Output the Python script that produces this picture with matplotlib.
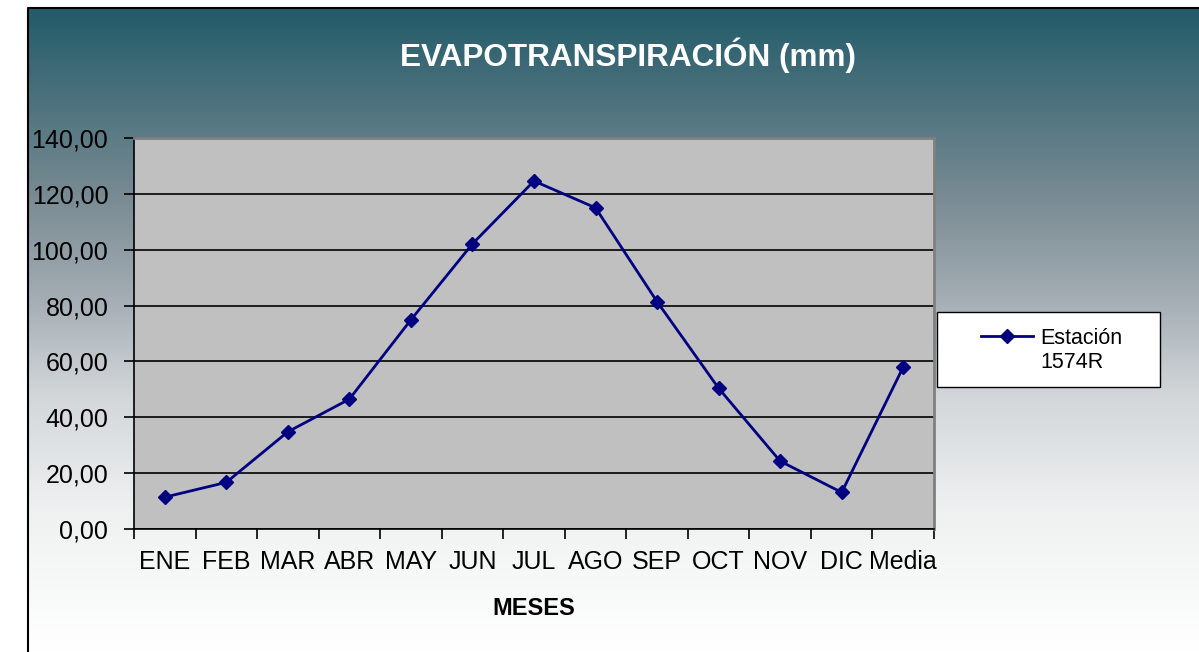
import numpy as np
import matplotlib
matplotlib.use("Agg")
import matplotlib.pyplot as plt
from matplotlib.colors import LinearSegmentedColormap
from matplotlib.patches import Rectangle
from matplotlib.ticker import FixedLocator, FuncFormatter

plt.rcParams['font.family'] = ['Liberation Sans', 'DejaVu Sans']

# datos
meses = ["ENE", "FEB", "MAR", "ABR", "MAY", "JUN", "JUL", "AGO", "SEP", "OCT", "NOV", "DIC", "Media"]
etp = [11.4, 16.7, 34.8, 46.5, 74.9, 102.1, 124.6, 115.0, 81.4, 50.4, 24.3, 13.1, 58.0]
y_ticks = [0, 20, 40, 60, 80, 100, 120, 140]
serie = ["Estación", "1574R"]

W, H = 1199, 652
fig = plt.figure(figsize=(W / 100, H / 100), dpi=100)
fig.patch.set_facecolor("white")

# fondo degradado del area del grafico
bg = fig.add_axes([0, 0, 1, 1], zorder=0)
grad = LinearSegmentedColormap.from_list("fondo", [
    (0.0, "#225b69"), (0.30, "#7b8c94"), (0.45, "#a3adb3"),
    (0.60, "#d2d6d9"), (0.78, "#eff1f1"), (1.0, "#ffffff")])
x0 = 28 / W
y1 = 1 - 8 / H
bg.imshow(np.linspace(0, 1, 256).reshape(-1, 1), cmap=grad, aspect="auto",
          extent=[x0, 1, 0, y1], origin="upper")
bg.plot([x0, x0, 1], [0, y1, y1], color="black", lw=1.5)
# caja de la leyenda
bg.add_patch(Rectangle((937 / W, 1 - 387 / H), 223 / W, 75 / H,
                       facecolor="white", edgecolor="black", lw=1))
bg.set_xlim(0, 1)
bg.set_ylim(0, 1)
bg.axis("off")

ax = fig.add_axes([134 / W, 1 - 529 / H, 800 / W, 391 / H], zorder=1)
ax.set_facecolor("#c0c0c0")
x = np.arange(len(meses))
ax.plot(x, etp, color="#000080", lw=2, marker="D", markersize=7.5,
        markeredgewidth=1, label=serie[0], zorder=3)

ax.set_xlim(-0.5, len(meses) - 0.5)
ax.set_ylim(0, 140)
ax.set_yticks(y_ticks)
ax.yaxis.set_major_formatter(FuncFormatter(lambda v, p: f"{v:.2f}".replace(".", ",")))
ax.grid(axis="y", color="black", lw=1.2)
ax.set_axisbelow(True)

ax.set_xticks(x)
ax.set_xticklabels(meses)
ax.xaxis.set_minor_locator(FixedLocator(np.arange(-0.5, len(meses), 1)))
ax.tick_params(axis="x", which="major", length=0, pad=15, labelsize=18)
ax.tick_params(axis="x", which="minor", length=7, width=1.2, direction="out")
ax.tick_params(axis="y", length=7, width=1.2, direction="out", pad=11.5, labelsize=18)

for s in ["top", "right"]:
    ax.spines[s].set_color("#808080")
    ax.spines[s].set_linewidth(2)
for s in ["left", "bottom"]:
    ax.spines[s].set_color("black")
    ax.spines[s].set_linewidth(1.2)

ax.set_xlabel("MESES", fontsize=17, fontweight="bold", labelpad=16.5)

fig.text(628 / W, 1 - 55 / H, "EVAPOTRANSPIRACIÓN (mm)", color="white",
         fontsize=22.7, fontweight="bold", ha="center", va="center")

leg = ax.legend(loc="center left", bbox_to_anchor=(981 / W, 1 - 338 / H),
                bbox_transform=fig.transFigure, fontsize=15.5, frameon=False,
                handlelength=2.4, handletextpad=0.35, borderpad=0,
                borderaxespad=0)

# segunda linea del texto de la leyenda, alineada con la primera
fig.canvas.draw()
tx = leg.get_texts()[0].get_window_extent().x0 / W
fig.text(tx, 1 - 362 / H, serie[1], fontsize=15.5, ha="left", va="center")

fig.savefig("out.png", dpi=100)
